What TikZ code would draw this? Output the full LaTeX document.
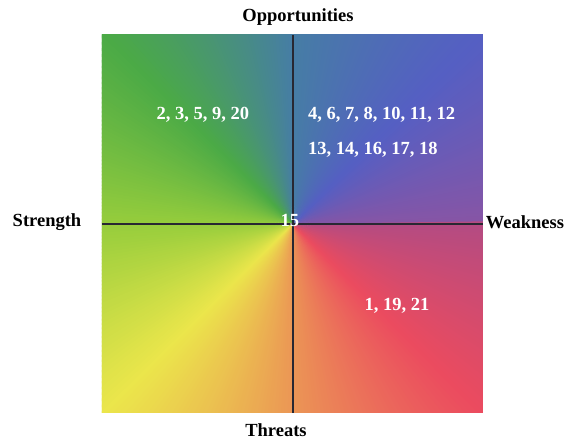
\documentclass[tikz,border=0pt]{standalone}
\usepackage{fontspec}
\setmainfont{Liberation Serif}
\definecolor{hue0}{RGB}{135,85,165}
\definecolor{hue1}{RGB}{85,95,195}
\definecolor{hue2}{RGB}{70,125,165}
\definecolor{hue3}{RGB}{75,170,70}
\definecolor{hue4}{RGB}{150,205,60}
\definecolor{hue5}{RGB}{235,230,75}
\definecolor{hue6}{RGB}{235,150,85}
\definecolor{hue7}{RGB}{235,75,95}
\definecolor{hue8}{RGB}{180,75,130}
\definecolor{axisline}{RGB}{40,40,50}
\tikzset{
  axislabel/.style = {font=\fontsize{18.5}{20}\selectfont\bfseries,
                      text=black, inner sep=0pt},
  cellnums/.style  = {axislabel, text=white},
  axisrule/.style  = {draw=axisline, line width=1.3pt},
}

\begin{document}
\begin{tikzpicture}[x=1pt, y=1pt]
	\useasboundingbox (-293,-215) rectangle (273,224);
	\coordinate (ctr) at (0,0);
	% colour wheel, clipped to the square
	\begin{scope}
		\clip (-191,-189) rectangle (190,189);
		\foreach \i/\ca/\cb in {0/hue0/hue1, 1/hue1/hue2, 2/hue2/hue3, 3/hue3/hue4,
		                        4/hue4/hue5, 5/hue5/hue6, 6/hue6/hue7, 7/hue7/hue8} {
			\foreach \j in {0,...,44} {
				\pgfmathsetmacro\pct{100-\j*100/45}
				\pgfmathsetmacro\ang{\i*45+\j}
				\fill[\ca!\pct!\cb] (ctr) -- (\ang-0.6:300) -- (\ang+1.8:300) -- cycle;
			}
		}
	\end{scope}
	% axes
	\coordinate (top) at (0,189);
	\coordinate (bot) at (0,-189);
	\coordinate (lft) at (-191,0);
	\coordinate (rgt) at (190,0);
	\draw[axisrule] (top) -- (bot);
	\draw[axisrule] (lft) -- (rgt);
	% labels
	\node[axislabel] (opp)  at (5,207)    {Opportunities};
	\node[axislabel] (thr)  at (-17,-206) {Threats};
	\node[axislabel] (str)  at (-246,2)   {Strength};
	\node[axislabel] (weak) at (232,2)    {Weakness};
	\node[cellnums] (so) at (-90,109) {2, 3, 5, 9, 20};
	\node[cellnums, anchor=west] (wo1) at (15,109) {4, 6, 7, 8, 10, 11, 12};
	\node[cellnums, anchor=west] (wo2) at (15,74)  {13, 14, 16, 17, 18};
	\node[cellnums] (wt)  at (104,-82) {1, 19, 21};
	\node[cellnums] (mid) at (-3,4)    {15};
\end{tikzpicture}
\end{document}
